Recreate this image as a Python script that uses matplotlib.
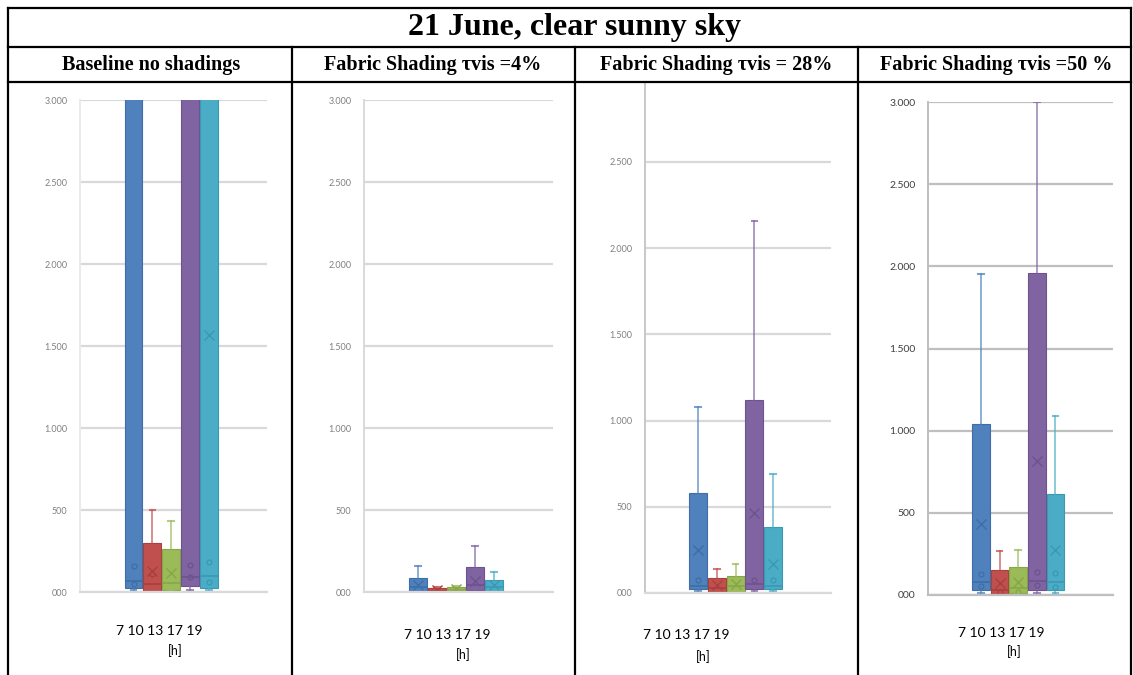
import numpy as np
import matplotlib
matplotlib.use('Agg')
import matplotlib.pyplot as plt
from matplotlib.lines import Line2D
from matplotlib.ticker import FuncFormatter

# ---- data (illuminance per hour) ----
hours = ['7', '10', '13', '17', '19']
title = '21 June, clear sunny sky'
headers = ['Baseline no shadings', 'Fabric Shading \u03c4vis =4%',
           'Fabric Shading \u03c4vis = 28%', 'Fabric Shading \u03c4vis =50 %']
nan = np.nan

# baseline (tops of blue, purple, cyan boxes go past 3.000)
base_q1 = [27, 8, 14, 35, 27]
base_med = [70, 50, 55, 90, 100]
base_q3 = [3100, 300, 260, 3100, 3100]
base_lo = [10, 0, 5, 10, 10]
base_hi = [3100, 500, 430, 3100, 3100]
base_mean = [nan, 130, 117, nan, 1565]
base_pts = [[160, 50], [110], [], [165, 90], [180, 60]]

# tau vis 4%
f4_q1 = [5, 3, 5, 10, 5]
f4_med = [30, 8, 15, 40, 30]
f4_q3 = [85, 22, 30, 150, 75]
f4_lo = [0, 0, 0, 0, 0]
f4_hi = [160, 30, 35, 280, 125]
f4_mean = [45, 10, 18, 65, 40]
f4_pts = [[], [], [], [], []]

# tau vis 28%
f28_q1 = [25, 5, 5, 22, 22]
f28_med = [40, 30, 40, 50, 42]
f28_q3 = [580, 88, 100, 1118, 383]
f28_lo = [10, 0, 0, 10, 10]
f28_hi = [1080, 142, 168, 2158, 691]
f28_mean = [252, 45, 55, 464, 168]
f28_pts = [[75], [], [], [77], [74]]

# tau vis 50%
f50_q1 = [30, 8, 12, 30, 30]
f50_med = [80, 30, 40, 85, 80]
f50_q3 = [1040, 150, 170, 1960, 615]
f50_lo = [10, 5, 5, 10, 10]
f50_hi = [1954, 270, 275, 3000, 1090]
f50_mean = [435, 75, 80, 815, 275]
f50_pts = [[130, 55], [20], [20], [140, 60], [135, 50]]

colors = ['#4F81BD', '#C0504D', '#9BBB59', '#8064A2', '#4BACC6']
dark = ['#3F6DA6', '#A8403D', '#86A647', '#6D528E', '#3B98B2']

W, H = 1133, 675
fig = plt.figure(figsize=(W / 100, H / 100), dpi=100)


def line(x0, y0, x1, y1):
    fig.add_artist(Line2D([x0 / W, x1 / W], [1 - y0 / H, 1 - y1 / H],
                          color='black', lw=1.6, transform=fig.transFigure))


# table frame
line(8, 8, 1131, 8)
line(8, 47, 1131, 47)
line(8, 82, 1131, 82)
line(8, 8, 8, 675)
line(1131, 8, 1131, 675)
for xd in [292, 575, 858]:
    line(xd, 47, xd, 675)

fig.text(575 / W, 1 - 28 / H, title, ha='center', va='center',
         family='Liberation Serif', weight='bold', fontsize=23)
for cx, h in zip([151, 433, 716, 996], headers):
    fig.text(cx / W, 1 - 65 / H, h, ha='center', va='center',
             family='Liberation Serif', weight='bold', fontsize=14.5)


def fmt(v, pos):
    v = int(round(v))
    if v >= 1000:
        return '%d.%03d' % (v // 1000, v % 1000)
    return '%03d' % v


panels = [
    (base_q1, base_med, base_q3, base_lo, base_hi, base_mean, base_pts,
     (80, 267, 100, 592), 3000, '#D9D9D9', '#EAEAEA', '#808080', 6.5, (159, 631, 175, 651)),
    (f4_q1, f4_med, f4_q3, f4_lo, f4_hi, f4_mean, f4_pts,
     (364, 553, 100, 592), 3000, '#D9D9D9', '#D9D9D9', '#808080', 6.5, (447, 635, 463, 655)),
    (f28_q1, f28_med, f28_q3, f28_lo, f28_hi, f28_mean, f28_pts,
     (645, 831, 83, 593), 2957, '#D9D9D9', '#C8C8C8', '#808080', 6.5, (686, 635, 703, 657)),
    (f50_q1, f50_med, f50_q3, f50_lo, f50_hi, f50_mean, f50_pts,
     (928, 1113, 102, 595), 3000, '#BFBFBF', '#BFBFBF', '#404040', 7.5, (1001, 633, 1014, 652)),
]

for (q1, med, q3, lo, hi, mean, pts, box, ytop, gridc, spinec, labc, labs, txt) in panels:
    x0, x1, y0, y1 = box
    ax = fig.add_axes([x0 / W, 1 - y1 / H, (x1 - x0) / W, (y1 - y0) / H])
    for i in range(5):
        st = dict(q1=q1[i], med=med[i], q3=q3[i], whislo=lo[i],
                  whishi=hi[i], mean=mean[i], fliers=[])
        ax.bxp([st], positions=[i + 1], widths=0.95, patch_artist=True,
               showmeans=True, showfliers=False, capwidths=0.3,
               boxprops=dict(facecolor=colors[i], edgecolor=dark[i], lw=0.8),
               medianprops=dict(color=dark[i], lw=1.2),
               whiskerprops=dict(color=colors[i], lw=1.2, alpha=0.75),
               capprops=dict(color=colors[i], lw=1.5, alpha=0.75),
               meanprops=dict(marker='x', markeredgecolor=dark[i],
                              markersize=7, markeredgewidth=1.0))
        if pts[i]:
            ax.plot([i + 1] * len(pts[i]), pts[i], 'o', mfc='none',
                    mec=dark[i], ms=3.5, mew=0.9)
    ax.set_xlim(-1.85, 8.1)
    ax.set_ylim(0, ytop)
    ax.set_yticks([t for t in range(0, 3001, 500) if t <= ytop])
    ax.yaxis.set_major_formatter(FuncFormatter(fmt))
    ax.set_xticks([])
    ax.tick_params(axis='y', length=0, pad=9, labelsize=labs, labelcolor=labc)
    for lab in ax.get_yticklabels():
        lab.set_family('Lato')
    ax.yaxis.grid(True, color=gridc, lw=1.6)
    ax.set_axisbelow(True)
    for s in ['top', 'right']:
        ax.spines[s].set_visible(False)
    ax.spines['left'].set_color(spinec)
    ax.spines['left'].set_linewidth(1.4)
    ax.spines['bottom'].set_color(gridc)
    ax.spines['bottom'].set_linewidth(1.6)
    ax.patch.set_alpha(0)
    tx, ty, hx, hy = txt
    fig.text(tx / W, 1 - ty / H, ' '.join(hours),
             ha='center', va='center', family='Lato', fontsize=10)
    fig.text(hx / W, 1 - hy / H, '[h]', ha='center', va='center',
             family='Lato', fontsize=9)

fig.savefig('out.png', dpi=100)
